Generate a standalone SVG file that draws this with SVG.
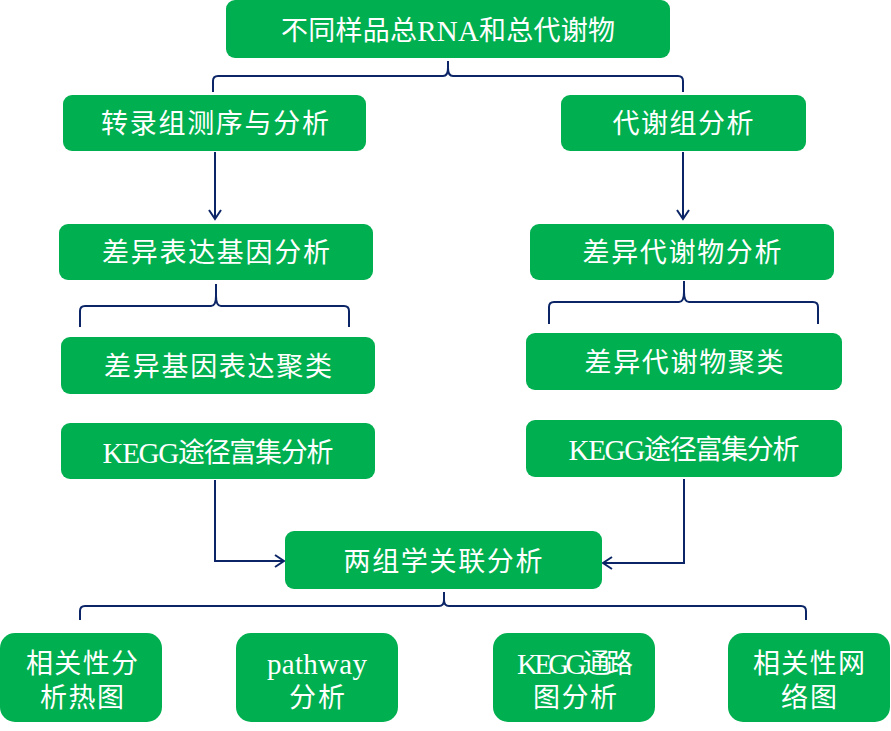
<svg xmlns="http://www.w3.org/2000/svg" width="891" height="731" viewBox="0 0 891 731">
<style>
.n{fill:#00B050}
.t{fill:#fff;font-family:"Liberation Serif","Noto Sans CJK SC",serif;font-size:27px;text-anchor:middle;dominant-baseline:central}
.l{font-size:29px}
.c{fill:none;stroke:#0B2566;stroke-width:2}
</style>
<defs>
<marker id="a" markerWidth="12" markerHeight="14" refX="10" refY="7" orient="auto" markerUnits="userSpaceOnUse">
<path d="M1,1 L10,7 L1,13" fill="none" stroke="#0B2566" stroke-width="2"/>
</marker>
</defs>
<g id="connectors">
<path class="c" d="M213,92 V81 Q213,76 218,76 H443 Q448,76 448,68 V61 V68 Q448,76 453,76 H678 Q683,76 683,81 V92"/>
<path class="c" d="M215,152 V219" marker-end="url(#a)"/>
<path class="c" d="M683,152 V219" marker-end="url(#a)"/>
<path class="c" d="M80,327 V311 Q80,306 85,306 H211 Q216,306 216,296 V284 V296 Q216,306 221,306 H344 Q349,306 349,311 V327"/>
<path class="c" d="M549,324 V307 Q549,302 554,302 H679 Q684,302 684,292 V281 V292 Q684,302 689,302 H813 Q818,302 818,307 V324"/>
<path class="c" d="M215,480 V561 H284" marker-end="url(#a)"/>
<path class="c" d="M684,479 V563 H603" marker-end="url(#a)"/>
<path class="c" d="M80,620 V611 Q80,606 85,606 H439 Q444,606 444,600 V592 V600 Q444,606 449,606 H801 Q806,606 806,611 V620"/>
</g>
<g id="n1"><rect class="n" x="226" y="0" width="444" height="58" rx="9"/><text class="t" x="448" y="31" textLength="334" lengthAdjust="spacing">不同样品总<tspan class="l">RNA</tspan>和总代谢物</text></g>
<g id="n2"><rect class="n" x="63" y="95" width="303" height="56" rx="9"/><text class="t" x="215" y="124" textLength="228" lengthAdjust="spacing">转录组测序与分析</text></g>
<g id="n3"><rect class="n" x="561" y="95" width="245" height="56" rx="9"/><text class="t" x="683" y="124" textLength="141" lengthAdjust="spacing">代谢组分析</text></g>
<g id="n4"><rect class="n" x="59" y="224" width="314" height="56" rx="9"/><text class="t" x="216" y="253" textLength="228" lengthAdjust="spacing">差异表达基因分析</text></g>
<g id="n5"><rect class="n" x="530" y="224" width="304" height="56" rx="9"/><text class="t" x="682" y="253" textLength="199" lengthAdjust="spacing">差异代谢物分析</text></g>
<g id="n6"><rect class="n" x="61" y="337" width="314" height="57" rx="9"/><text class="t" x="218" y="367" textLength="228" lengthAdjust="spacing">差异基因表达聚类</text></g>
<g id="n7"><rect class="n" x="526" y="333" width="316" height="57" rx="9"/><text class="t" x="684" y="363" textLength="199" lengthAdjust="spacing">差异代谢物聚类</text></g>
<g id="n8"><rect class="n" x="61" y="423" width="314" height="56" rx="9"/><text class="t" x="218" y="453" textLength="231" lengthAdjust="spacing"><tspan class="l">KEGG</tspan>途径富集分析</text></g>
<g id="n9"><rect class="n" x="526" y="420" width="316" height="57" rx="9"/><text class="t" x="684" y="450" textLength="231" lengthAdjust="spacing"><tspan class="l">KEGG</tspan>途径富集分析</text></g>
<g id="n10"><rect class="n" x="285" y="531" width="317" height="58" rx="9"/><text class="t" x="443" y="562" textLength="199" lengthAdjust="spacing">两组学关联分析</text></g>
<g id="n11"><rect class="n" x="0" y="633" width="162" height="89" rx="15"/><text class="t" x="82" y="664" textLength="112" lengthAdjust="spacing">相关性分</text><text class="t" x="82" y="698" textLength="84" lengthAdjust="spacing">析热图</text></g>
<g id="n12"><rect class="n" x="236" y="633" width="162" height="89" rx="15"/><text class="t l" x="317" y="664" textLength="100" lengthAdjust="spacing">pathway</text><text class="t" x="317" y="698" textLength="56" lengthAdjust="spacing">分析</text></g>
<g id="n13"><rect class="n" x="493" y="633" width="162" height="89" rx="15"/><text class="t" x="575" y="664" textLength="116" lengthAdjust="spacing"><tspan class="l">KEGG</tspan>通路</text><text class="t" x="575" y="698" textLength="84" lengthAdjust="spacing">图分析</text></g>
<g id="n14"><rect class="n" x="728" y="633" width="162" height="89" rx="15"/><text class="t" x="809" y="664" textLength="112" lengthAdjust="spacing">相关性网</text><text class="t" x="809" y="698" textLength="56" lengthAdjust="spacing">络图</text></g>
</svg>
